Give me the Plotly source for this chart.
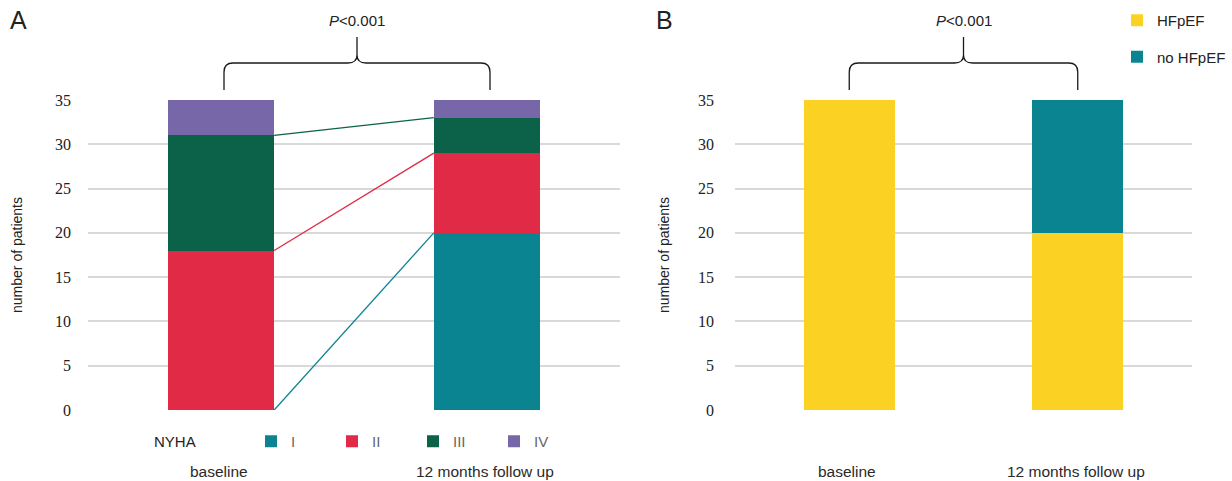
import plotly.graph_objects as go

# ---- data -------------------------------------------------------------
categories = ["baseline", "12 months follow up"]
x_pos = [0, 1]

nyha_classes = ["I", "II", "III", "IV"]
nyha_I = [0, 20]
nyha_II = [18, 9]
nyha_III = [13, 4]
nyha_IV = [4, 2]

hfpef_names = ["HFpEF", "no HFpEF"]
hfpef = [35, 20]
no_hfpef = [0, 15]

y_ticks = [0, 5, 10, 15, 20, 25, 30, 35]
p_text = "<i>P</i>&lt;0.001"

# ---- style ------------------------------------------------------------
TEAL = "#0B8492"
RED = "#E02A46"
GREEN = "#0B6248"
PURPLE = "#7767A8"
YELLOW = "#FBD123"
GRID = "#D9D9D9"
SANS = "Liberation Sans"
SERIF = "Liberation Serif"

W, H = 1232, 481
BAR_W = 0.4
dom_a = [88 / W, 620 / W]
dom_b = [735 / W, 1192 / W]
dom_y = [1 - 410 / H, 1 - 100 / H]


def py(px):
    """pixel row -> paper y"""
    return 1 - px / H


fig = go.Figure()

# ---- panel A: NYHA class stacked bars ---------------------------------
nyha_values = [nyha_I, nyha_II, nyha_III, nyha_IV]
nyha_colors = [TEAL, RED, GREEN, PURPLE]
for name, vals, col in zip(nyha_classes, nyha_values, nyha_colors):
    fig.add_trace(go.Bar(
        x=x_pos, y=vals, name=name, width=BAR_W,
        marker=dict(color=col, line=dict(width=0)),
        xaxis="x", yaxis="y", legend="legend",
    ))

# connector lines between the tops of matching segments
cum_base, cum_follow = 0, 0
for vals, col in zip(nyha_values[:3], nyha_colors[:3]):
    cum_base += vals[0]
    cum_follow += vals[1]
    fig.add_trace(go.Scatter(
        x=[x_pos[0] + BAR_W / 2, x_pos[1] - BAR_W / 2],
        y=[cum_base, cum_follow], mode="lines",
        line=dict(color=col, width=1.3), showlegend=False,
        hoverinfo="skip", xaxis="x", yaxis="y",
    ))

# ---- panel B: HFpEF stacked bars --------------------------------------
for name, vals, col, grp in zip(hfpef_names, [hfpef, no_hfpef], [YELLOW, TEAL], ["g1", "g2"]):
    fig.add_trace(go.Bar(
        x=x_pos, y=vals, name=name, width=BAR_W,
        marker=dict(color=col, line=dict(width=0)),
        xaxis="x2", yaxis="y2", legend="legend2", legendgroup=grp,
    ))


# ---- braces with significance label -----------------------------------
def brace_path(x_left, x_right, units_per_px):
    r = 9 * units_per_px
    xm = (x_left + x_right) / 2
    y_end, y_bar, y_top = py(90), py(63), py(37)
    y_r = py(72)
    y_mr = py(55)
    return (
        f"M {x_left},{y_end} L {x_left},{y_r} "
        f"Q {x_left},{y_bar} {x_left + r},{y_bar} "
        f"L {xm - r},{y_bar} Q {xm},{y_bar} {xm},{y_mr} L {xm},{y_top} "
        f"M {xm},{y_mr} Q {xm},{y_bar} {xm + r},{y_bar} "
        f"L {x_right - r},{y_bar} Q {x_right},{y_bar} {x_right},{y_r} "
        f"L {x_right},{y_end}"
    )


shapes = []
annotations = []
for xref, dom, off in [("x", dom_a, 3), ("x2", dom_b, 0)]:
    upp = 2.0 / ((dom[1] - dom[0]) * W)  # data units per pixel
    xl = x_pos[0] + off * upp
    xr = x_pos[1] + off * upp
    shapes.append(dict(
        type="path", xref=xref, yref="paper",
        path=brace_path(xl, xr, upp),
        line=dict(color="#1a1a1a", width=1.3),
    ))
    annotations.append(dict(
        x=(xl + xr) / 2, y=py(21), xref=xref, yref="paper",
        text=p_text, showarrow=False, xanchor="center", yanchor="middle",
        font=dict(family=SANS, size=15, color="#222"),
    ))
    for xp, cat in zip(x_pos, categories):
        annotations.append(dict(
            x=xp, y=py(471), xref=xref, yref="paper", text=cat,
            showarrow=False, xanchor="center", yanchor="middle", xshift=-2,
            font=dict(family=SANS, size=15.5, color="#2a2a2a"),
        ))

# panel letters
annotations.append(dict(x=8 / W, y=py(20), xref="paper", yref="paper", text="A",
                        showarrow=False, xanchor="left", yanchor="middle",
                        font=dict(family=SANS, size=25, color="#222")))
annotations.append(dict(x=654 / W, y=py(20), xref="paper", yref="paper", text="B",
                        showarrow=False, xanchor="left", yanchor="middle",
                        font=dict(family=SANS, size=25, color="#222")))
# NYHA legend caption
annotations.append(dict(x=152 / W, y=py(441), xref="paper", yref="paper", text="NYHA",
                        showarrow=False, xanchor="left", yanchor="middle",
                        font=dict(family=SANS, size=15, color="#222")))


def y_axis(standoff_ticks, standoff_title):
    return dict(
        domain=dom_y, range=[0, 35], tickvals=y_ticks,
        showgrid=True, gridcolor=GRID, gridwidth=1.6, zeroline=False,
        showline=False, ticks="", ticklabelstandoff=standoff_ticks,
        tickfont=dict(family=SERIF, size=16, color="#222"),
        title=dict(text="number of patients", standoff=standoff_title,
                   font=dict(family=SANS, size=14, color="#222")),
        automargin=False, fixedrange=True,
    )


xaxis_common = dict(
    range=[-0.5, 1.5], showticklabels=False, showgrid=False,
    zeroline=False, showline=False, ticks="", fixedrange=True,
    automargin=False,
)

fig.update_layout(
    width=W, height=H,
    margin=dict(l=0, r=0, t=0, b=0, autoexpand=False),
    paper_bgcolor="white", plot_bgcolor="white",
    barmode="stack",
    xaxis=dict(domain=dom_a, anchor="y", **xaxis_common),
    yaxis=dict(anchor="x", **y_axis(16, 29)),
    xaxis2=dict(domain=dom_b, anchor="y2", **xaxis_common),
    yaxis2=dict(anchor="x2", **y_axis(20, 25)),
    legend=dict(
        orientation="h", x=251 / W, y=py(441.5), xanchor="left", yanchor="middle",
        traceorder="normal", entrywidth=36, entrywidthmode="pixels",
        font=dict(family=SANS, size=15, color="#666"),
        bgcolor="rgba(0,0,0,0)",
    ),
    legend2=dict(
        orientation="v", x=1117 / W, y=py(4), xanchor="left", yanchor="top",
        traceorder="grouped", tracegroupgap=14,
        font=dict(family=SANS, size=15, color="#222"),
        bgcolor="rgba(0,0,0,0)",
    ),
    shapes=shapes,
    annotations=annotations,
    showlegend=True,
)

fig.write_html("out.html")
